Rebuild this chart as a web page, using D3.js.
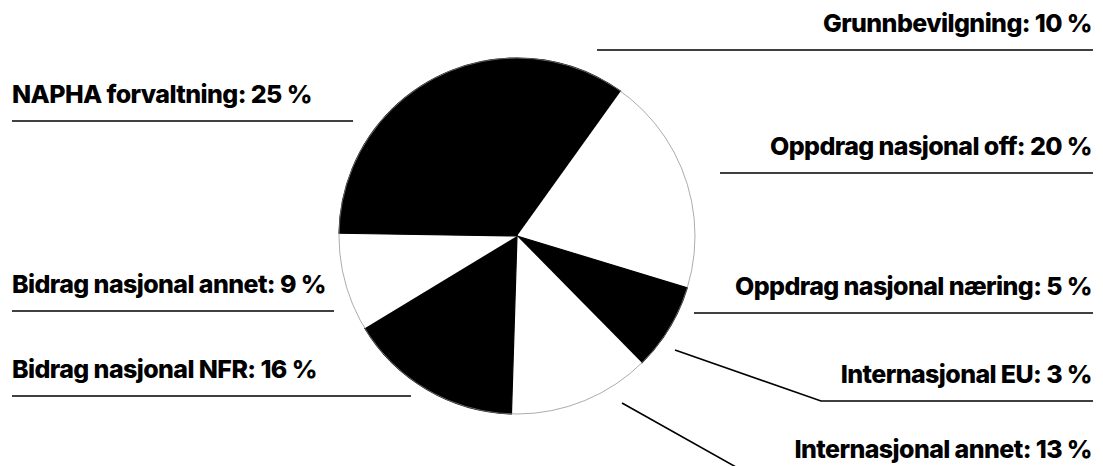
<!DOCTYPE html>
<html>
<head>
<meta charset="utf-8">
<script src="https://cdn.jsdelivr.net/npm/d3@7"></script>
<style>
  html, body { margin: 0; padding: 0; background: #fff; }
  #chart svg { display: block; }
</style>
</head>
<body>
<div id="chart"></div>
<script>
// data (clockwise from 12 o'clock)
const categories = [
    "Grunnbevilgning",
    "Oppdrag nasjonal off",
    "Oppdrag nasjonal næring",
    "Internasjonal EU",
    "Internasjonal annet",
    "Bidrag nasjonal NFR",
    "Bidrag nasjonal annet",
    "NAPHA forvaltning"
];
const shares = [10, 20, 5, 3, 13, 16, 9, 25];
const sliceColors = ["#000", "#fff", "#000", "#000", "#fff", "#000", "#fff", "#000"];

// label layout: side, y of the underline, inner end of the underline, optional pointer start
const labelLayout = [
    { side: "right", lineY: 50,  innerX: 597 },
    { side: "right", lineY: 173, innerX: 720 },
    { side: "right", lineY: 313, innerX: 694 },
    { side: "right", lineY: 401, innerX: 821, pointer: [675, 350] },
    { side: "right", lineY: 476, innerX: 752, pointer: [622, 403] },
    { side: "left",  lineY: 396, innerX: 411 },
    { side: "left",  lineY: 311, innerX: 334 },
    { side: "left",  lineY: 121, innerX: 353 }
];

const width = 1103, height = 466;
const cx = 517, cy = 236, radius = 178;
const leftX = 12, rightX = 1093;

const svg = d3.select("#chart").append("svg")
    .attr("width", width)
    .attr("height", height);

const dataset = categories.map((c, i) => ({
    item: c,
    value: shares[i],
    color: sliceColors[i],
    layout: labelLayout[i]
}));

const pie = d3.pie().sort(null).value(d => d.value);
const arc = d3.arc().innerRadius(0).outerRadius(radius);

// slices (black ones get a stroke so neighbouring black slices don't show a seam)
const g = svg.append("g").attr("transform", `translate(${cx},${cy})`);
g.selectAll("path")
    .data(pie(dataset))
    .enter().append("path")
    .attr("d", arc)
    .attr("fill", d => d.data.color)
    .attr("stroke", d => d.data.color === "#000" ? "#000" : "none")
    .attr("stroke-width", 1.2)
    .attr("stroke-linejoin", "round");

// thin grey rim, only shows on the white slices
g.append("circle")
    .attr("r", radius)
    .attr("fill", "none")
    .attr("stroke", "#888")
    .attr("stroke-width", 0.7);

// leader lines
svg.selectAll(".leader")
    .data(dataset)
    .enter().append("polyline")
    .attr("class", "leader")
    .attr("fill", "none")
    .attr("stroke", "#000")
    .attr("stroke-width", 1.6)
    .attr("points", d => {
        const l = d.layout;
        const outerX = l.side === "right" ? rightX : leftX;
        const pts = [];
        if (l.pointer) pts.push(l.pointer);
        pts.push([l.innerX, l.lineY], [outerX, l.lineY]);
        return pts.map(p => p.join(",")).join(" ");
    });

// labels
svg.selectAll(".label")
    .data(dataset)
    .enter().append("text")
    .attr("class", "label")
    .attr("x", d => d.layout.side === "right" ? rightX - 1 : leftX)
    .attr("y", d => d.layout.lineY - 18)
    .attr("text-anchor", d => d.layout.side === "right" ? "end" : "start")
    .style("font-family", "Inter, 'Noto Sans', sans-serif")
    .style("font-weight", 800)
    .style("font-size", "25px")
    .style("letter-spacing", "-0.6px")
    .style("fill", "#000")
    .text(d => `${d.item}: ${d.value} %`);
</script>
</body>
</html>
